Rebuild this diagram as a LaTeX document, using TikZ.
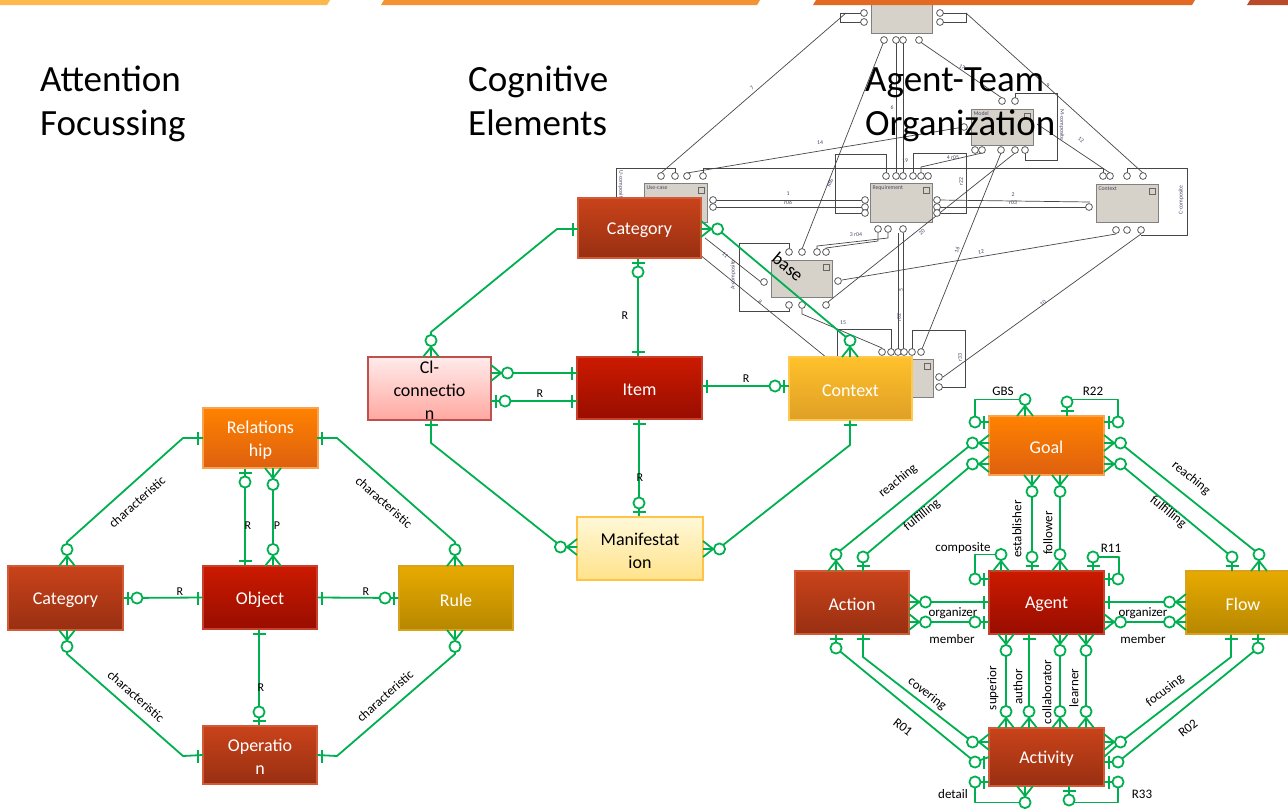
\documentclass[tikz,border=0pt]{standalone}
\usepackage{fontspec}
\setmainfont{Carlito}
\definecolor{ergreen}{HTML}{00B050}
\definecolor{orTop}{HTML}{FF8200}
\definecolor{orBot}{HTML}{DE600F}
\definecolor{orBd}{HTML}{F9A34F}
\definecolor{brTop}{HTML}{C9431A}
\definecolor{brBot}{HTML}{982F12}
\definecolor{brBd}{HTML}{D25A36}
\definecolor{rdTop}{HTML}{CC1A00}
\definecolor{rdBot}{HTML}{980D00}
\definecolor{rdBd}{HTML}{C8402C}
\definecolor{gdTop}{HTML}{E7AA00}
\definecolor{gdBot}{HTML}{B68700}
\definecolor{gdBd}{HTML}{D9A21C}
\definecolor{cxTop}{HTML}{FFC12B}
\definecolor{cxBot}{HTML}{DF9F26}
\definecolor{cxBd}{HTML}{FFC84E}
\definecolor{ciTop}{HTML}{FFEBEB}
\definecolor{ciBot}{HTML}{FFA8A0}
\definecolor{ciBd}{HTML}{C0504D}
\definecolor{mnTop}{HTML}{FFF8D8}
\definecolor{mnBot}{HTML}{FFE28A}
\definecolor{mnBd}{HTML}{FFC447}
\definecolor{boxgray}{HTML}{D6D2CA}
\definecolor{barA}{HTML}{FDB94B}
\definecolor{barB}{HTML}{F39332}
\definecolor{barC}{HTML}{E26A22}
\definecolor{barD}{HTML}{B94A2A}
\definecolor{glabc}{HTML}{4A4A6A}
\tikzset{
  erl/.style={draw=ergreen,line width=1.8pt,line join=round},
  pics/one/.style={code={\draw[erl] (5,-6.5) -- (5,6.5);}},
  pics/zo/.style={code={\draw[erl] (5,-6.5) -- (5,6.5); \draw[erl,fill=white] (14,0) circle (5.6);}},
  pics/zm/.style={code={\draw[erl] (0,-8) -- (10,0) -- (0,8) (0,0) -- (10,0); \draw[erl,fill=white] (16.5,0) circle (5.6);}},
  ent/.style={line width=1.1pt, inner sep=0pt},
  eor/.style={ent, top color=orTop, bottom color=orBot, draw=orBd},
  ebr/.style={ent, top color=brTop, bottom color=brBot, draw=brBd},
  erd/.style={ent, top color=rdTop, bottom color=rdBot, draw=rdBd},
  egd/.style={ent, top color=gdTop, bottom color=gdBot, draw=gdBd},
  ecx/.style={ent, top color=cxTop, bottom color=cxBot, draw=cxBd},
  eci/.style={ent, top color=ciTop, bottom color=ciBot, draw=ciBd},
  emn/.style={ent, top color=mnTop, bottom color=mnBot, draw=mnBd},
  etx/.style={font=\fontsize{18}{23}\selectfont, text=white, align=center, inner sep=0pt, yshift=-2pt},
  ebk/.style={etx, text=black},
  lbl/.style={font=\fontsize{13}{14}\selectfont, inner sep=0pt},
  rl/.style={font=\fontsize{12}{13}\selectfont, inner sep=0pt},
  ttl/.style={font=\fontsize{37}{44}\selectfont, anchor=base west, inner sep=0pt},
  gl/.style={draw=black!72, line width=0.7pt},
  gbox/.style={draw=black!50, fill=boxgray, line width=0.8pt, inner sep=0pt, anchor=north west},
  glab/.style={font=\fontsize{5.8}{6}\selectfont, text=glabc, inner sep=0.3pt},
}
\newcommand\cf[3]{\path (#3) pic[rotate=#2] {#1};}
\newcommand\gsq[1]{\draw[black!60,line width=0.5pt] ([xshift=-10pt,yshift=-4pt]#1.north east) rectangle ++(6pt,-6pt);}
\begin{document}
\begin{tikzpicture}[x=1pt,y=-1pt]
\useasboundingbox (0,0) rectangle (1288,809);
\fill[white] (0,0) rectangle (1288,809);

% ================= gray background model =================
\node[gbox,minimum width=61pt,minimum height=37pt] (gtop) at (871,-4) {};
\node[gbox,minimum width=62pt,minimum height=36pt] (gmod) at (971,109) {};
\node[glab,anchor=north west] at ([xshift=2pt,yshift=-2pt]gmod.north west) {Model}; \gsq{gmod}
\node[gbox,minimum width=63pt,minimum height=39pt] (guse) at (644,183) {};
\node[glab,anchor=north west] at ([xshift=2pt,yshift=-2pt]guse.north west) {Use-case}; \gsq{guse}
\node[gbox,minimum width=62pt,minimum height=39pt] (greq) at (870,183) {};
\node[glab,anchor=north west] at ([xshift=2pt,yshift=-2pt]greq.north west) {Requirement}; \gsq{greq}
\node[gbox,minimum width=62pt,minimum height=38pt] (gctx) at (1096,184) {};
\node[glab,anchor=north west] at ([xshift=2pt,yshift=-2pt]gctx.north west) {Context}; \gsq{gctx}
\node[gbox,minimum width=61pt,minimum height=37pt] (gbase) at (771,260) {}; \gsq{gbase}
\node[gbox,minimum width=83pt,minimum height=38pt] (gbot) at (850,359) {}; \gsq{gbot}

% lines
\draw[gl] (864,13) -- (840,13) -- (840,22) -- (864,22);
\draw[gl] (940,13) -- (966,13) -- (966,22) -- (940,22);
\draw[gl] (846,13) -- (661,173);
\draw[gl] (966,13) -- (1143,173);
\draw[gl] (884,41) -- (802,249);
\draw[gl] (896,41) -- (896,173);
\draw[gl] (903,41) -- (903,173);
\draw[gl] (919,41) -- (1002,98);
\draw[gl] (964,127) -- (687,173);
\draw[gl] (1015,98) -- (1015,93) -- (1057,93) -- (1057,160) -- (1025,160) -- (1025,153);
\draw[gl] (982,153) -- (921,167) -- (921,173);
\draw[gl] (1001,153) -- (922,349);
\draw[gl] (1015,153) -- (828,302);
\draw[gl] (1037,124) -- (1110,173);
\draw[gl] (675,173) -- (675,168) -- (616,168) -- (616,240) -- (644,240);
\draw[gl] (703,173) -- (703,168) -- (1103,168) -- (1103,173);
\draw[gl] (710,200) -- (864,200);
\draw[gl] (710,207) -- (864,207);
\draw[gl] (705,238) -- (761,282);
\draw[gl] (694,250) -- (832,362);
\draw[gl] (886,173) -- (886,154) -- (835,154) -- (835,213) -- (864,213);
\draw[gl] (913,173) -- (913,153) -- (966,153) -- (966,213) -- (938,213);
\draw[gl] (938,200) -- (1090,202);
\draw[gl] (938,207) -- (1090,207);
\draw[gl] (888,233) -- (888,238) -- (817,246) -- (817,249);
\draw[gl] (878,233) -- (878,241) -- (826,248) -- (826,249);
\draw[gl] (898,233) -- (898,349);
\draw[gl] (903,233) -- (903,349);
\draw[gl] (1127,173) -- (1127,168) -- (1187,168) -- (1187,235) -- (1141,235);
\draw[gl] (1116,234) -- (842,280);
\draw[gl] (1141,234) -- (943,377);
\draw[gl] (789,249) -- (789,243) -- (739,243) -- (739,311) -- (789,311) -- (789,309);
\draw[gl] (802,309) -- (802,314) -- (882,348);
\draw[gl] (891,349) -- (891,329) -- (837,329) -- (837,360);
\draw[gl] (912,349) -- (912,330) -- (965,330) -- (965,387) -- (940,387);
% circles
\foreach \p in {{864,13},{864,22},{940,13},{940,22},{884,40},{896,40},{903,40},{919,40},
  {1002,101},{1015,101},{964,127},{975,150},{982,150},{1001,150},{1015,150},{1025,150},
  {661,176},{675,176},{687,176},{703,176},{713,200},{713,207},
  {886,176},{896,176},{903,176},{913,176},{921,176},{928,176},
  {865,200},{865,207},{865,213},{937,200},{937,207},{937,213},{878,229},{888,229},{903,229},
  {1103,176},{1110,176},{1127,176},{1143,176},{1089,207},{1116,230},{1127,230},{1141,230},
  {789,252},{802,252},{817,252},{826,252},{789,305},{802,305},{826,305},{764,282},{838,281},
  {882,352},{891,352},{898,352},{904,352},{912,352},{921,352},{939,377},{939,387}}
  {\draw[gl,fill=white] (\p) circle (3.4);}
% gray labels
\node[glab,rotate=40] at (752,88) {7};
\node[glab] at (820,143) {14};
\node[glab] at (892,108) {6};
\node[glab] at (905,161) {19};
\node[glab] at (953,158) {4 r05};
\node[glab,rotate=-30] at (962,67) {17};
\node[glab] at (1048,86) {9};
\node[glab,rotate=-35] at (1081,140) {12};
\node[glab,rotate=-90] at (1062,125) {M-composite};
\node[glab] at (788,194) {1};
\node[glab] at (788,203) {r06};
\node[glab] at (1013,195) {2};
\node[glab] at (1013,203) {r03};
\node[glab,rotate=90] at (961,182) {r22};
\node[glab,rotate=90] at (1181,200) {C-composite};
\node[glab,rotate=-90] at (621,186) {U-composite};
\node[glab,rotate=68] at (830,183) {RBS};
\node[glab] at (856,235) {3 r04};
\node[glab,rotate=40] at (922,232) {20};
\node[glab,rotate=70] at (957,250) {16};
\node[glab,rotate=10] at (981,252) {12};
\node[glab,rotate=-40] at (725,255) {11};
\node[glab,rotate=90] at (733,275) {A-composite};
\node[glab,rotate=-40] at (760,302) {8};
\node[glab] at (843,323) {15};
\node[glab,rotate=90] at (901,290) {5};
\node[glab,rotate=90] at (899,318) {r02};
\node[glab,rotate=90] at (960,358) {r33};
\node[glab,rotate=35] at (1043,303) {10};

% top bars
\fill[barA] (0,0) -- (330,0) -- (327,5) -- (0,5) -- cycle;
\fill[barB] (381,5) -- (384,0) -- (760,0) -- (757,5) -- cycle;
\fill[barC] (813,5) -- (816,0) -- (1195,0) -- (1192,5) -- cycle;
\fill[barD] (1247,5) -- (1250,0) -- (1288,0) -- (1288,5) -- cycle;

% ================= entities =================
\node[eor,minimum width=115pt,minimum height=60pt] (relA) at (260.5,438) {};
\node[etx] at (relA) {Relations\\hip};
\node[ebr,minimum width=115pt,minimum height=64pt] (catL) at (65.5,598) {};
\node[etx] at (catL) {Category};
\node[erd,minimum width=114pt,minimum height=63pt] (obj) at (260,597.5) {};
\node[etx] at (obj) {Object};
\node[egd,minimum width=114pt,minimum height=64pt] (rule) at (456,598) {};
\node[etx] at (rule) {Rule};
\node[ebr,minimum width=114pt,minimum height=58pt] (oper) at (260,755) {};
\node[etx] at (oper) {Operatio\\n};

\node[ebr,minimum width=123pt,minimum height=60pt] (catM) at (639.5,228) {};
\node[etx] at (catM) {Category};
\node[erd,minimum width=125pt,minimum height=62pt] (item) at (639.5,388) {};
\node[etx] at (item) {Item};
\node[ecx,minimum width=123pt,minimum height=63pt] (ctx) at (850.5,388.5) {};
\node[etx] at (ctx) {Context};
\node[eci,minimum width=123pt,minimum height=63pt] (ci) at (429.5,388.5) {};
\node[ebk] at (ci) {Cl-\\connectio\\n};
\node[emn,minimum width=126pt,minimum height=63pt] (man) at (640,548.5) {};
\node[ebk] at (man) {Manifestat\\ion};

\node[eor,minimum width=115pt,minimum height=59pt] (goal) at (1046.5,445.5) {};
\node[etx] at (goal) {Goal};
\node[ebr,minimum width=114pt,minimum height=63pt] (action) at (852,602.5) {};
\node[etx] at (action) {Action};
\node[erd,minimum width=115pt,minimum height=63pt] (agent) at (1046.5,602.5) {};
\node[etx] at (agent) {Agent};
\node[egd,minimum width=114pt,minimum height=63pt] (flow) at (1243,602.5) {};
\node[etx] at (flow) {Flow};
\node[ebr,minimum width=115pt,minimum height=58pt] (activity) at (1046.5,757) {};
\node[etx] at (activity) {Activity};

% ================= connectors: left =================
\draw[erl] (203,438 |- relA.west) -- (183,438) -- (67,542) -- (67,566 |- catL.north);
\cf{one}{180}{203,438} \cf{zm}{90}{67,566}
\node[lbl,rotate=41.5] at (137,502) {characteristic};
\draw[erl] (317,438) -- (337,438) -- (455,542) -- (455,566 |- rule.north);
\cf{one}{0}{317,438} \cf{zm}{90}{455,566}
\node[lbl,rotate=-41.5] at (384,502) {characteristic};
\draw[erl] (245,468 |- relA.south) -- (245,566 |- obj.north);
\cf{zo}{-90}{245,468} \cf{one}{90}{245,566}
\node[rl] at (248,526) {R};
\draw[erl] (273,468 |- relA.south) -- (273,566 |- obj.north);
\cf{zm}{-90}{273,468} \cf{zm}{90}{273,566}
\node[rl] at (277,526) {P};
\draw[erl] (catL.east) -- (obj.west);
\cf{zo}{0}{123,598} \cf{one}{180}{203,598}
\node[rl] at (180,592) {R};
\draw[erl] (obj.east) -- (rule.west);
\cf{one}{0}{317,598} \cf{zo}{180}{399,598}
\node[rl] at (366,592) {R};
\draw[erl] (259,629 |- obj.south) -- (259,726 |- oper.north);
\cf{one}{-90}{259,629} \cf{zo}{90}{259,726}
\node[rl] at (261,688) {R};
\draw[erl] (67,630 |- catL.south) -- (67,654) -- (183,756) -- (203,756 |- oper.west);
\cf{zm}{-90}{67,630} \cf{one}{180}{203,756}
\node[lbl,rotate=-41.5] at (136,696) {characteristic};
\draw[erl] (455,630 |- rule.south) -- (455,654) -- (337,756) -- (317,756 |- oper.east);
\cf{zm}{-90}{455,630} \cf{one}{0}{317,756}
\node[lbl,rotate=41.5] at (385,696) {characteristic};

% ================= connectors: middle =================
\draw[erl] (578,229) -- (557,229) -- (431,332) -- (431,357 |- ci.north);
\cf{one}{180}{578,229} \cf{zm}{90}{431,357}
\draw[erl] (638,258 |- catM.south) -- (638,357 |- item.north);
\cf{zo}{-90}{638,258} \cf{one}{90}{638,357}
\node[rl] at (625,316) {R};
\draw[erl] (491,373) -- (577,373);
\cf{zm}{0}{491,373} \cf{one}{180}{577,373}
\draw[erl] (491,401) -- (577,401);
\cf{zo}{0}{491,401} \cf{one}{180}{577,401}
\node[rl] at (540,394) {R};
\draw[erl] (431,420 |- ci.south) -- (431,443) -- (562,547) -- (577,547);
\cf{one}{-90}{431,420} \cf{zm}{180}{577,547}
\draw[erl] (702,386) -- (789,386);
\cf{one}{0}{702,386} \cf{zo}{180}{789,386}
\node[rl] at (746,379) {R};
\draw[erl] (639,419 |- item.south) -- (639,517 |- man.north);
\cf{one}{-90}{639,419} \cf{zo}{90}{639,517}
\node[rl] at (640,478) {R};
\draw[erl] (850,420 |- ctx.south) -- (850,445) -- (718,549) -- (703,549);
\cf{one}{-90}{850,420} \cf{zm}{0}{703,549}
\draw[erl] (701,229) -- (717.5,229) -- (850,340.5) -- (850,357 |- ctx.north);
\cf{zm}{0}{701,229} \cf{zm}{90}{850,357}
\node[font=\fontsize{18}{20}\selectfont,rotate=-40,inner sep=0pt] at (788,267) {base};

% ================= connectors: right =================
\draw[erl] (989,422) -- (975,422) -- (975,399.5) -- (1025,399.5) -- (1025,416);
\cf{zo}{180}{989,422} \cf{zm}{90}{1025,416}
\node[lbl] at (1003,391) {GBS};
\draw[erl] (1067,416) -- (1067,399.5) -- (1118,399.5) -- (1118,422) -- (1104,422);
\cf{zo}{90}{1067,416} \cf{zo}{0}{1104,422}
\node[lbl] at (1093,391) {R22};
\draw[erl] (989,443) -- (973,443) -- (836,554) -- (836,571 |- action.north);
\cf{zm}{180}{989,443} \cf{zm}{90}{836,571}
\node[lbl,rotate=39] at (898,481) {reaching};
\draw[erl] (989,464) -- (973,464) -- (863,557) -- (863,571);
\cf{zm}{180}{989,464} \cf{zo}{90}{863,571}
\node[lbl,rotate=39] at (922,515) {fulfilling};
\draw[erl] (1104,443) -- (1120,443) -- (1259,554) -- (1259,571 |- flow.north);
\cf{zm}{0}{1104,443} \cf{zm}{90}{1259,571}
\node[lbl,rotate=-39] at (1191,478) {reaching};
\draw[erl] (1104,464) -- (1120,464) -- (1232,557) -- (1232,571);
\cf{zm}{0}{1104,464} \cf{zo}{90}{1232,571}
\node[lbl,rotate=-39] at (1168,512) {fulfilling};
\draw[erl] (1032,475 |- goal.south) -- (1032,571 |- agent.north);
\cf{zm}{-90}{1032,475} \cf{zo}{90}{1032,571}
\node[lbl,rotate=90] at (1017,529) {establisher};
\draw[erl] (1060,475) -- (1060,571);
\cf{zm}{-90}{1060,475} \cf{zm}{90}{1060,571}
\node[lbl,rotate=90] at (1048,533) {follower};
\draw[erl] (989,579) -- (975,579) -- (975,554.5) -- (1001,554.5) -- (1001,571);
\cf{zo}{180}{989,579} \cf{zm}{90}{1001,571}
\node[lbl] at (963,548) {composite};
\draw[erl] (1093,571) -- (1093,557) -- (1119,557) -- (1119,579) -- (1104,579);
\cf{zo}{90}{1093,571} \cf{zo}{0}{1104,579}
\node[lbl] at (1111,548) {R11};
\draw[erl] (909,602) -- (989,602);
\cf{zm}{0}{909,602} \cf{one}{180}{989,602}
\node[lbl] at (953,613) {organizer};
\draw[erl] (909,622) -- (989,622);
\cf{zm}{0}{909,622} \cf{zo}{180}{989,622}
\node[lbl] at (952,639) {member};
\draw[erl] (1104,602) -- (1186,602);
\cf{one}{0}{1104,602} \cf{zm}{180}{1186,602}
\node[lbl] at (1143,613) {organizer};
\draw[erl] (1104,622) -- (1186,622);
\cf{zm}{0}{1104,622} \cf{zm}{180}{1186,622}
\node[lbl] at (1143,639) {member};
\draw[erl] (836,634 |- action.south) -- (836,648) -- (975,762) -- (989,762 |- activity.west);
\cf{zo}{-90}{836,634} \cf{zo}{180}{989,762}
\node[lbl,rotate=-38] at (903,727) {R01};
\draw[erl] (863,634) -- (863,657) -- (972.5,742) -- (989,742);
\cf{one}{-90}{863,634} \cf{zm}{180}{989,742}
\node[lbl,rotate=-38] at (927,694) {covering};
\draw[erl] (1006,634 |- agent.south) -- (1006,728 |- activity.north);
\cf{zm}{-90}{1006,634} \cf{zm}{90}{1006,728}
\node[lbl,rotate=90] at (993,688) {superior};
\draw[erl] (1029,634) -- (1029,728);
\cf{one}{-90}{1029,634} \cf{zm}{90}{1029,728}
\node[lbl,rotate=90] at (1018,687) {author};
\draw[erl] (1060,634) -- (1060,728);
\cf{zm}{-90}{1060,634} \cf{zm}{90}{1060,728}
\node[lbl,rotate=90] at (1047,692) {collaborator};
\draw[erl] (1086,634) -- (1086,728);
\cf{zm}{-90}{1086,634} \cf{zm}{90}{1086,728}
\node[lbl,rotate=90] at (1074,688) {learner};
\draw[erl] (1231,634 |- flow.south) -- (1231,657) -- (1120.5,742) -- (1104,742 |- activity.east);
\cf{one}{-90}{1231,634} \cf{zm}{0}{1104,742}
\node[lbl,rotate=38] at (1165,691) {focusing};
\draw[erl] (1258,634) -- (1258,648) -- (1118,762) -- (1104,762);
\cf{zo}{-90}{1258,634} \cf{zo}{0}{1104,762}
\node[lbl,rotate=38] at (1188,728) {R02};
\draw[erl] (989,782) -- (975,782) -- (975,802.5) -- (1025,802.5) -- (1025,786);
\cf{zo}{180}{989,782} \cf{zm}{-90}{1025,786}
\node[lbl] at (953,794) {detail};
\draw[erl] (1104,782) -- (1118,782) -- (1118,802.5) -- (1069,802.5) -- (1069,786);
\cf{zo}{0}{1104,782} \cf{zo}{-90}{1069,786}
\node[lbl] at (1142,794) {R33};

% ================= titles =================
\node[ttl] (t1a) at (40,91) {Attention};
\node[ttl] (t1b) at (40,135) {Focussing};
\node[ttl] (t2a) at (468,91) {Cognitive};
\node[ttl] (t2b) at (468,135) {Elements};
\node[ttl] (t3a) at (865,91) {Agent-Team};
\node[ttl] (t3b) at (865,135) {Organization};
\end{tikzpicture}
\end{document}
